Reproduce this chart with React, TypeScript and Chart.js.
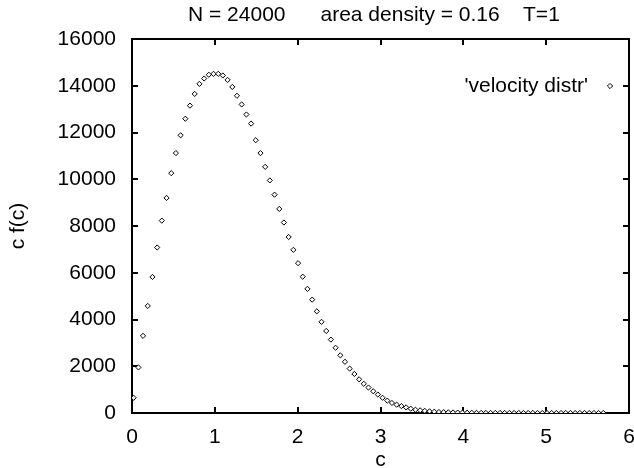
import React, { useEffect, useRef } from "react";
import { Chart, registerables } from "chart.js";

Chart.register(...registerables);

const TITLE = "N = 24000      area density = 0.16    T=1";
const X_LABEL = "c";
const Y_LABEL = "c f(c)";
const SERIES_LABEL = "'velocity distr'";

const X_TICKS = [0, 1, 2, 3, 4, 5, 6];
const Y_TICKS = [0, 2000, 4000, 6000, 8000, 10000, 12000, 14000, 16000];

const C_VALUES = [
  0.020, 0.077, 0.133, 0.190, 0.247, 0.304, 0.360, 0.417, 0.474, 0.530,
  0.587, 0.644, 0.700, 0.757, 0.814, 0.871, 0.927, 0.984, 1.041, 1.097,
  1.154, 1.211, 1.267, 1.324, 1.381, 1.438, 1.494, 1.551, 1.608, 1.664,
  1.721, 1.778, 1.834, 1.891, 1.948, 2.005, 2.061, 2.118, 2.175, 2.231,
  2.288, 2.345, 2.401, 2.458, 2.515, 2.571, 2.628, 2.685, 2.742, 2.798,
  2.855, 2.912, 2.968, 3.025, 3.082, 3.138, 3.195, 3.252, 3.309, 3.365,
  3.422, 3.479, 3.535, 3.592, 3.649, 3.705, 3.762, 3.819, 3.876, 3.932,
  3.989, 4.046, 4.102, 4.159, 4.216, 4.272, 4.329, 4.386, 4.443, 4.499,
  4.556, 4.613, 4.669, 4.726, 4.783, 4.839, 4.896, 4.953, 5.010, 5.066,
  5.123, 5.180, 5.236, 5.293, 5.350, 5.406, 5.463, 5.520, 5.577, 5.633,
  5.690,
];

const CF_VALUES = [
  650, 1950, 3300, 4580, 5820, 7080, 8230, 9200, 10260, 11120,
  11880, 12590, 13150, 13650, 14080, 14310, 14470, 14510, 14510, 14440,
  14250, 13950, 13570, 13200, 12770, 12380, 11670, 11120, 10530, 9950,
  9340, 8730, 8150, 7530, 6980, 6410, 5830, 5310, 4850, 4350,
  3900, 3510, 3140, 2790, 2467, 2190, 1900, 1670, 1440, 1250,
  1090, 930, 790, 650, 530, 430, 355, 295, 240, 185,
  140, 115, 90, 72, 55, 42, 35, 28, 22, 18,
  14, 11, 9, 7, 6, 5, 4, 3, 3, 2,
  2, 1, 1, 1, 1, 1, 0, 0, 0, 0,
  0, 0, 0, 0, 0, 0, 0, 0, 0, 0,
  0,
];

const FONT = "'Liberation Sans', Arial, Helvetica, sans-serif";
const FONT_SIZE = 21;
const TICK_LEN = 6;

const textPlugin = {
  id: "gnuplotText",
  afterDraw(chart: any) {
    const { ctx, chartArea } = chart;
    const { left, right, top, bottom } = chartArea;
    ctx.save();
    ctx.fillStyle = "#000";
    ctx.font = `${FONT_SIZE}px ${FONT}`;
    ctx.textBaseline = "alphabetic";
    ctx.textAlign = "left";
    ctx.fillText(TITLE, 188, 21);
    ctx.textAlign = "center";
    ctx.fillText(X_LABEL, (left + right) / 2, 466);
    ctx.save();
    ctx.textBaseline = "middle";
    ctx.translate(18, (top + bottom) / 2);
    ctx.rotate(-Math.PI / 2);
    ctx.fillText(Y_LABEL, 0, 0);
    ctx.restore();
    const ly = 86;
    ctx.textAlign = "right";
    ctx.textBaseline = "middle";
    ctx.fillText(SERIES_LABEL, 588, ly);
    const lx = 610;
    const r = 2.6;
    ctx.strokeStyle = "#000";
    ctx.lineWidth = 1;
    ctx.beginPath();
    ctx.moveTo(lx, ly - r);
    ctx.lineTo(lx + r, ly);
    ctx.lineTo(lx, ly + r);
    ctx.lineTo(lx - r, ly);
    ctx.closePath();
    ctx.fillStyle = "#fff";
    ctx.fill();
    ctx.stroke();
    ctx.restore();
  },
};

const frameGrid = {
  display: true,
  drawOnChartArea: false,
  drawTicks: true,
  tickLength: -TICK_LEN,
  color: "#000",
  lineWidth: 2,
};
const frameBorder = { display: true, color: "#000", width: 2 };

export default function App() {
  const ref = useRef<HTMLCanvasElement | null>(null);
  useEffect(() => {
    if (!ref.current) return;
    const points = CF_VALUES.map((v, i) => ({ x: C_VALUES[i], y: v }));
    const xTicks = (s: any) => {
      s.ticks = X_TICKS.map((v) => ({ value: v }));
    };
    const yTicks = (s: any) => {
      s.ticks = Y_TICKS.map((v) => ({ value: v }));
    };
    const chart = new Chart(ref.current, {
      type: "scatter",
      data: {
        datasets: [
          {
            label: SERIES_LABEL,
            data: points,
            pointStyle: "rectRot",
            pointRadius: 2.6,
            pointBorderWidth: 1,
            borderColor: "#000",
            backgroundColor: "#fff",
          },
        ],
      },
      options: {
        responsive: false,
        animation: false,
        layout: { padding: { top: 39, right: 5, left: 0, bottom: 0 } },
        plugins: {
          legend: { display: false },
          title: { display: false },
          tooltip: { enabled: false },
        },
        scales: {
          x: {
            type: "linear",
            position: "bottom",
            min: 0,
            max: 6,
            afterBuildTicks: xTicks,
            afterFit: (s: any) => {
              s.height = 55;
              s.paddingLeft = 0;
              s.paddingRight = 0;
            },
            grid: frameGrid,
            border: frameBorder,
            ticks: {
              padding: 12 + TICK_LEN,
              color: "#000",
              font: { family: FONT, size: FONT_SIZE },
              maxRotation: 0,
              callback: (v: any) => String(v),
            },
          },
          x2: {
            type: "linear",
            position: "top",
            min: 0,
            max: 6,
            afterBuildTicks: xTicks,
            afterFit: (s: any) => {
              s.height = 0;
              s.paddingLeft = 0;
              s.paddingRight = 0;
            },
            grid: frameGrid,
            border: frameBorder,
            ticks: { display: false },
          },
          y: {
            type: "linear",
            position: "left",
            min: 0,
            max: 16000,
            afterBuildTicks: yTicks,
            afterFit: (s: any) => {
              s.width = 132;
              s.paddingTop = 0;
              s.paddingBottom = 0;
            },
            grid: frameGrid,
            border: frameBorder,
            ticks: {
              padding: 16 + TICK_LEN,
              color: "#000",
              font: { family: FONT, size: FONT_SIZE },
              callback: (v: any) => String(v),
            },
          },
          y2: {
            type: "linear",
            position: "right",
            min: 0,
            max: 16000,
            afterBuildTicks: yTicks,
            afterFit: (s: any) => {
              s.width = 0;
              s.paddingTop = 0;
              s.paddingBottom = 0;
            },
            grid: frameGrid,
            border: frameBorder,
            ticks: { display: false },
          },
        },
      },
      plugins: [textPlugin],
    });
    return () => chart.destroy();
  }, []);
  return (
    <div style={{ position: "fixed", left: 0, top: 0, width: 634, height: 468, background: "#fff" }}>
      <canvas ref={ref} width={634} height={468} style={{ width: 634, height: 468, display: "block" }} />
    </div>
  );
}
